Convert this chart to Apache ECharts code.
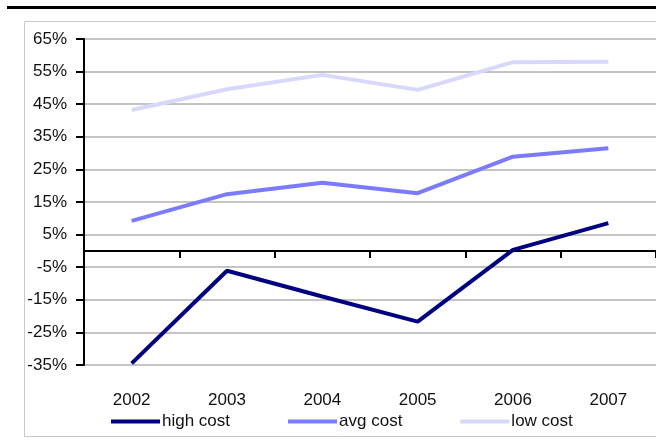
<!DOCTYPE html>
<html>
<head>
<meta charset="utf-8">
<script src="https://cdn.jsdelivr.net/npm/echarts@6/dist/echarts.min.js"></script>
<style>
  html, body { margin: 0; padding: 0; background: #fff; }
  #main { width: 656px; height: 444px; }
</style>
</head>
<body>
<div id="main"></div>
<script>
// years on the x axis
var years = ['2002', '2003', '2004', '2005', '2006', '2007'];
// cost series, in percent
var highCost = [-34.5, -6.1, -14.0, -21.7, 0.3, 8.5];
var avgCost = [9.2, 17.4, 20.9, 17.7, 28.9, 31.5];
var lowCost = [43.2, 49.6, 54.0, 49.4, 57.9, 58.0];
var seriesNames = ['high cost', 'avg cost', 'low cost'];

var font = '"Liberation Sans", Arial, sans-serif';

var chart = echarts.init(document.getElementById('main'), null, { renderer: 'canvas' });

var option = {
  animation: false,
  textStyle: { fontFamily: font },
  graphic: [
    {
      type: 'rect',
      shape: { x: 24.5, y: 21.5, width: 700, height: 415 },
      style: { fill: null, stroke: '#c8c8c8', lineWidth: 1 },
      silent: true
    },
    {
      type: 'line',
      shape: { x1: 7, y1: 7.5, x2: 656, y2: 7.5 },
      style: { stroke: '#000', lineWidth: 3 },
      silent: true
    }
  ],
  grid: { left: 84, top: 39, width: 576, height: 326 },
  legend: {
    data: seriesNames,
    left: 106,
    top: 408,
    icon: 'rect',
    itemWidth: 49,
    itemHeight: 4,
    itemGap: 58,
    textStyle: { fontFamily: font, fontSize: 17, color: '#111', padding: [0, 0, 0, -3] }
  },
  xAxis: [
    {
      type: 'category',
      data: years,
      boundaryGap: true,
      axisLine: { onZero: true, lineStyle: { color: '#000', width: 2 } },
      axisTick: { show: true, length: 7, lineStyle: { color: '#000', width: 2 } },
      axisLabel: { show: false },
      splitLine: { show: false }
    },
    {
      type: 'category',
      data: years,
      position: 'bottom',
      boundaryGap: true,
      axisLine: { show: false, onZero: false },
      axisTick: { show: false },
      axisLabel: { margin: 27, fontFamily: font, fontSize: 17, color: '#111' },
      splitLine: { show: false }
    }
  ],
  yAxis: {
    type: 'value',
    min: -35,
    max: 65,
    interval: 10,
    axisLine: { show: true, lineStyle: { color: '#000', width: 2 } },
    axisTick: { show: true, length: 8, lineStyle: { color: '#000', width: 2 } },
    axisLabel: {
      margin: 17,
      fontFamily: font,
      fontSize: 17,
      color: '#111',
      formatter: function (v) { return v + '%'; }
    },
    splitLine: { show: true, lineStyle: { color: '#c4c4c4', width: 2 } }
  },
  series: [
    {
      name: 'high cost', type: 'line', data: highCost, xAxisIndex: 0,
      symbol: 'none', lineStyle: { width: 4, color: '#000080' }, itemStyle: { color: '#000080' }
    },
    {
      name: 'avg cost', type: 'line', data: avgCost, xAxisIndex: 0,
      symbol: 'none', lineStyle: { width: 4, color: '#7b7bff' }, itemStyle: { color: '#7b7bff' }
    },
    {
      name: 'low cost', type: 'line', data: lowCost, xAxisIndex: 0,
      symbol: 'none', lineStyle: { width: 4, color: '#d8d8fc' }, itemStyle: { color: '#d8d8fc' }
    }
  ]
};

chart.setOption(option);
</script>
</body>
</html>
